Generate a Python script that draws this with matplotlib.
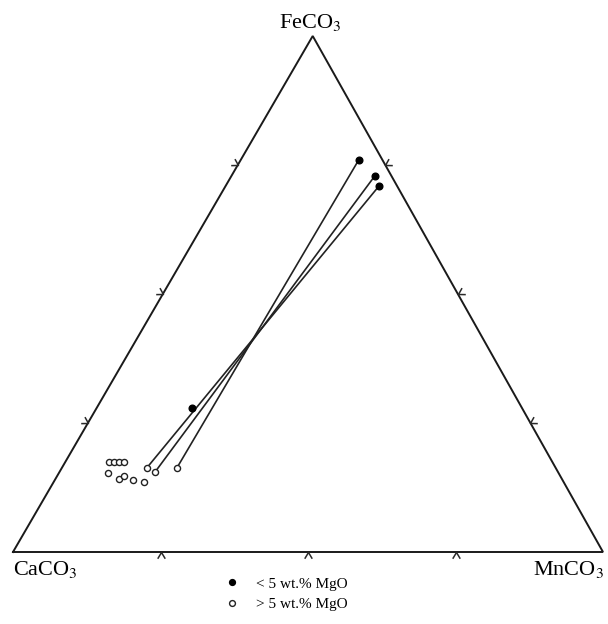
import numpy as np
import matplotlib
matplotlib.use('Agg')
import matplotlib.pyplot as plt
from matplotlib.markers import MarkerStyle
from matplotlib.path import Path
from matplotlib.transforms import Affine2D
from matplotlib.lines import Line2D

plt.rcParams['font.family'] = 'Liberation Serif'
plt.rcParams['mathtext.fontset'] = 'stix'

# Composiciones en % molar (MnCO3, FeCO3; CaCO3 = resto)
# muestras con < 5 wt.% MgO
mn_bajo = [20.0, 24.3, 26.0, 16.2]
fe_bajo = [76.0, 72.9, 70.9, 27.9]
# muestras con > 5 wt.% MgO
mn_alto = [7.4, 8.3, 9.1, 10.0, 8.3, 10.8, 11.3, 13.2, 15.3, 14.4, 16.2, 19.5]
fe_alto = [17.4, 17.4, 17.4, 17.4, 15.3, 14.1, 14.7, 14.0, 13.6, 16.3, 15.5, 16.3]
# pares unidos por lineas (indice bajo, indice alto)
pares = [(2, 9), (1, 10), (0, 11)]

ca_bajo = [100 - m - f for m, f in zip(mn_bajo, fe_bajo)]
ca_alto = [100 - m - f for m, f in zip(mn_alto, fe_alto)]

apex_x = 0.508


def tern(ca, mn, fe):
    ca, mn, fe = np.asarray(ca, float), np.asarray(mn, float), np.asarray(fe, float)
    tot = ca + mn + fe
    return (mn + apex_x * fe) / tot, fe / tot


fig = plt.figure(figsize=(6.08, 6.24), dpi=100)
ax = fig.add_axes([13 / 608, 1 - 552 / 624, 590 / 608, 516 / 624])
ax.set_xlim(0, 1)
ax.set_ylim(0, 1)
ax.axis('off')

# triangulo
vx, vy = tern([100, 0, 0, 100], [0, 100, 0, 0], [0, 0, 100, 0])
ax.plot(vx, vy, color='#1a1a1a', lw=1.4, clip_on=False, solid_joinstyle='miter')

# marcas en los lados (25, 50, 75 %)
chevron = Path([(-0.6, -1.0), (0, 0), (0.6, -1.0)])
lados = [((100, 0, 0), (0, 100, 0), 0),
         ((100, 0, 0), (0, 0, 100), 240),
         ((0, 100, 0), (0, 0, 100), 120)]
for a, b, ang in lados:
    for t in [0.25, 0.5, 0.75]:
        p = [a[i] * (1 - t) + b[i] * t for i in range(3)]
        x, y = tern(*p)
        m = MarkerStyle(chevron, transform=Affine2D().rotate_deg(ang))
        ax.plot(x, y, marker=m, ms=9, mew=1.1, mec='#2a2a2a', mfc='none',
                ls='none', clip_on=False)

# lineas de union
for i, j in pares:
    x1, y1 = tern(ca_bajo[i], mn_bajo[i], fe_bajo[i])
    x2, y2 = tern(ca_alto[j], mn_alto[j], fe_alto[j])
    ax.plot([x1, x2], [y1, y2], color='#222222', lw=1.2)

xb, yb = tern(ca_bajo, mn_bajo, fe_bajo)
xa, ya = tern(ca_alto, mn_alto, fe_alto)
ax.plot(xa, ya, 'o', ms=4.4, mfc='white', mec='#222222', mew=1.0, zorder=3)
ax.plot(xb, yb, 'o', ms=4.8, color='black', zorder=3)

# etiquetas de vertices
fig.text(310 / 608, 1 - 28 / 624, 'FeCO$_3$', ha='center', va='baseline', fontsize=16)
fig.text(13 / 608, 1 - 575 / 624, 'CaCO$_3$', ha='left', va='baseline', fontsize=16)
fig.text(604 / 608, 1 - 575 / 624, 'MnCO$_3$', ha='right', va='baseline', fontsize=16)

# leyenda
h1 = Line2D([], [], marker='o', ls='none', ms=4.2, color='black')
h2 = Line2D([], [], marker='o', ls='none', ms=4.2, mfc='white', mec='#222222', mew=1.0)
fig.legend([h1, h2], ['< 5 wt.% MgO', '> 5 wt.% MgO'], loc='upper left',
           bbox_to_anchor=(224 / 608, 1 - 577 / 624), frameon=False, fontsize=11,
           handlelength=1.0, handletextpad=1.1, labelspacing=0.45, borderpad=0,
           borderaxespad=0)

fig.savefig('out.png', dpi=100, facecolor='white')
